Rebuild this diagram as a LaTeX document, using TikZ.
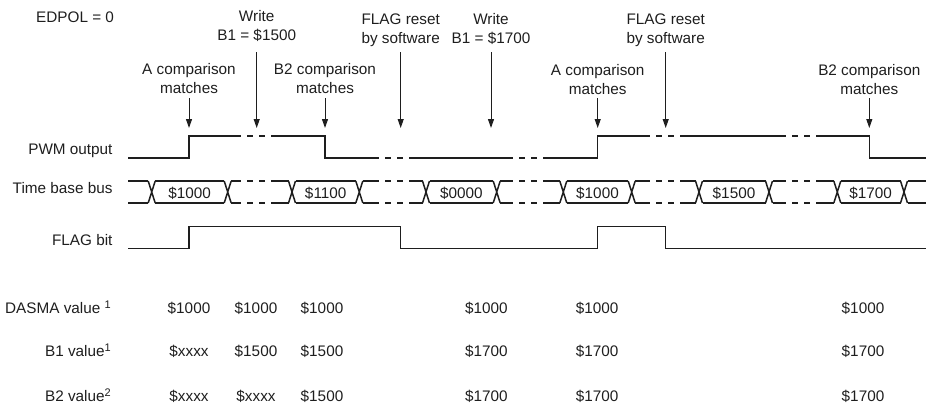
\documentclass[tikz,border=0pt]{standalone}
\usepackage{fontspec}
\setmainfont{Liberation Sans}
\usetikzlibrary{arrows.meta}
\definecolor{ink}{RGB}{30,30,30}
\newcommand\supnum[1]{\raisebox{4.5pt}{\fontsize{11}{11}\selectfont #1}}
\begin{document}
\begin{tikzpicture}[x=1pt,y=-1pt,
  wave/.style={line width=1.5pt, draw=ink},
  gapd/.style={wave, dash pattern=on 6pt off 6pt, dash phase=6pt},
  evarrow/.style={line width=1pt, draw=ink, -{Triangle[length=9pt,width=6pt]}},
  txt/.style={inner sep=0pt, anchor=base, font=\fontsize{15.3}{19}\selectfont, text=ink},
  rtxt/.style={txt, anchor=base east}]
\useasboundingbox (0,0) rectangle (926,407);

% title
\node[txt, anchor=base west] (edpol) at (36,22) {EDPOL = 0};

% event labels and arrows
\foreach \n/\x/\la/\lb/\yb/\ys in {
  1/189/A comparison/matches/74/98,
  2/256.7/Write/B1 = \$1500/21/52,
  3/325/B2 comparison/matches/74/98,
  4/400.7/FLAG reset/by software/24.5/52,
  5/491/Write/B1 = \$1700/24.5/52,
  6/597.7/A comparison/matches/75/98,
  7/665.7/FLAG reset/by software/24.5/52,
  8/869.3/B2 comparison/matches/75/98}{
  \node[txt] (ev\n a) at (\x,\yb) {\la};
  \node[txt] (ev\n b) at (\x,\yb+19) {\lb};
  \coordinate (ev\n s) at (\x,\ys);
  \coordinate (ev\n e) at (\x,128);
  \draw[evarrow] (ev\n s) -- (ev\n e);
}

% signal names
\node[rtxt] (lpwm) at (112.7,154) {PWM output};
\node[rtxt] (lbus) at (112.7,193.3) {Time base bus};
\node[rtxt] (lflag) at (112.7,245) {FLAG bit};

% PWM output
\draw[wave] (128,158) -- (189,158) -- (189,136) -- (241,136);
\draw[gapd] (241,136) -- (271,136);
\draw[wave] (271,136) -- (325,136) -- (325,158) -- (379,158);
\draw[gapd] (379,158) -- (409,158);
\draw[wave] (409,158) -- (513,158);
\draw[gapd] (513,158) -- (543,158);
\draw[wave] (543,158) -- (597.7,158) -- (597.7,136) -- (650,136);
\draw[gapd] (650,136) -- (680,136);
\draw[wave] (680,136) -- (786,136);
\draw[gapd] (786,136) -- (816,136);
\draw[wave] (816,136) -- (869.3,136) -- (869.3,158) -- (926,158);

% Time base bus
\foreach \x in {151.7,227.7,292,359.3,426,496.7,563.3,631.7,699,769,837.3,904}{
  \draw[wave] (\x-3.5,181) -- (\x+3.5,203) (\x-3.5,203) -- (\x+3.5,181);
}
\foreach \a/\b in {128/148.2,155.2/224.2,231.2/241,271/288.5,295.5/355.8,362.8/379,409/422.5,429.5/493.2,500.2/513,543/559.8,566.8/628.2,635.2/650,680/695.5,702.5/765.5,772.5/786,816/833.8,840.8/900.5,907.5/926}{
  \draw[wave] (\a,181) -- (\b,181) (\a,203) -- (\b,203);
}
\foreach \a in {241,379,513,650,786}{
  \draw[gapd] (\a,181) -- (\a+30,181) (\a,203) -- (\a+30,203);
}
\foreach \n/\x/\v in {1/189.7/1000,2/325.7/1100,3/461.3/0000,4/597.5/1000,5/734/1500,6/870.7/1700}{
  \node[txt] (bus\n) at (\x,198) {\$\v};
}

% FLAG bit
\draw[wave] (128,248.3) -- (189,248.3) -- (189,226.7) -- (400.7,226.7) -- (400.7,248.3)
  -- (597.7,248.3) -- (597.7,226.7) -- (665.7,226.7) -- (665.7,248.3) -- (926,248.3);

% value table
\node[rtxt] (rdasma) at (111,313) {DASMA value \supnum{1}};
\node[rtxt] (rb1) at (111,356) {B1 value\supnum{1}};
\node[rtxt] (rb2) at (111,401) {B2 value\supnum{2}};
\foreach \c/\x/\p/\q/\r in {1/189/1000/xxxx/xxxx,2/256/1000/1500/xxxx,3/322/1000/1500/1500,4/486.3/1000/1700/1700,5/597.2/1000/1700/1700,6/863/1000/1700/1700}{
  \node[txt] (vd\c) at (\x,313) {\$\p};
  \node[txt] (vb\c) at (\x,356) {\$\q};
  \node[txt] (vc\c) at (\x,401) {\$\r};
}
\end{tikzpicture}
\end{document}
